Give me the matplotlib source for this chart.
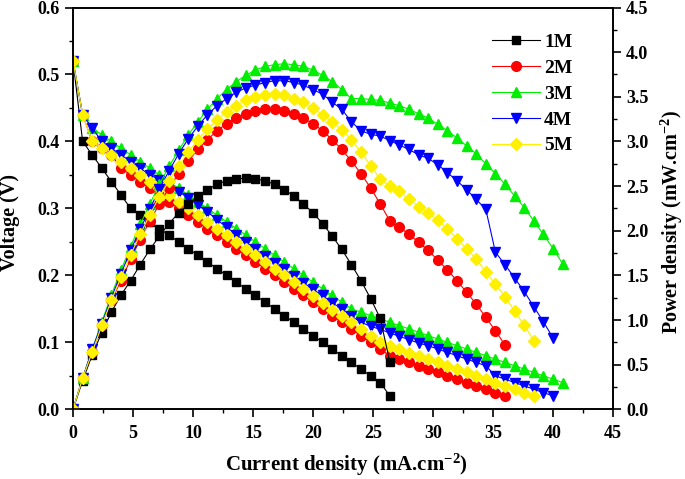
import matplotlib
matplotlib.use("Agg")
import matplotlib.pyplot as plt
from matplotlib.ticker import MultipleLocator

plt.rcParams['font.family'] = ['Liberation Serif', 'DejaVu Serif']
plt.rcParams['font.weight'] = 'bold'
plt.rcParams['mathtext.fontset'] = 'custom'
plt.rcParams['mathtext.rm'] = 'Liberation Serif:bold'
plt.rcParams['mathtext.it'] = 'Liberation Serif:bold'
plt.rcParams['mathtext.bf'] = 'Liberation Serif:bold'

current = [0.0, 0.8, 1.6, 2.4, 3.2, 4.0, 4.8, 5.6, 6.4, 7.2, 8.0, 8.8, 9.6, 10.4,
           11.2, 12.0, 12.8, 13.6, 14.4, 15.2, 16.0, 16.8, 17.6, 18.4, 19.2, 20.0,
           20.8, 21.6, 22.4, 23.2, 24.0, 24.8, 25.6, 26.4, 27.2, 28.0, 28.8, 29.6,
           30.4, 31.2, 32.0, 32.8, 33.6, 34.4, 35.2, 36.0, 36.8, 37.6, 38.4, 39.2,
           40.0, 40.8]

labels = ['1M', '2M', '3M', '4M', '5M']

v_1M = [0.52, 0.40, 0.38, 0.36, 0.34, 0.32, 0.30, 0.29, 0.28, 0.27, 0.26, 0.25,
        0.24, 0.23, 0.22, 0.21, 0.20, 0.19, 0.18, 0.17, 0.16, 0.15, 0.14, 0.13,
        0.12, 0.11, 0.10, 0.09, 0.08, 0.07, 0.06, 0.05, 0.04, 0.02]
p_1M = [0.0, 0.32, 0.61, 0.86, 1.09, 1.28, 1.44, 1.62, 1.79, 1.94, 2.08, 2.20,
        2.30, 2.39, 2.46, 2.52, 2.56, 2.58, 2.59, 2.58, 2.56, 2.52, 2.46, 2.39,
        2.30, 2.20, 2.08, 1.94, 1.79, 1.62, 1.44, 1.24, 1.02, 0.53]

v_2M = [0.52, 0.44, 0.40, 0.39, 0.38, 0.36, 0.35, 0.34, 0.33, 0.32, 0.31, 0.30,
        0.29, 0.28, 0.27, 0.26, 0.25, 0.24, 0.23, 0.22, 0.21, 0.20, 0.19, 0.18,
        0.17, 0.16, 0.15, 0.14, 0.13, 0.12, 0.11, 0.10, 0.09, 0.08, 0.075, 0.07,
        0.065, 0.06, 0.055, 0.05, 0.045, 0.04, 0.035, 0.03, 0.025, 0.02]
p_2M = [0.0, 0.35, 0.64, 0.94, 1.22, 1.44, 1.68, 1.90, 2.11, 2.30, 2.48, 2.64,
        2.78, 2.91, 3.02, 3.12, 3.20, 3.26, 3.31, 3.34, 3.36, 3.36, 3.34, 3.31,
        3.26, 3.20, 3.12, 3.02, 2.91, 2.78, 2.64, 2.48, 2.30, 2.11, 2.04, 1.96,
        1.87, 1.78, 1.67, 1.56, 1.44, 1.31, 1.18, 1.03, 0.88, 0.72]

v_3M = [0.52, 0.44, 0.42, 0.41, 0.40, 0.39, 0.38, 0.37, 0.36, 0.35, 0.34, 0.33,
        0.32, 0.31, 0.30, 0.29, 0.28, 0.27, 0.26, 0.25, 0.24, 0.23, 0.22, 0.21,
        0.20, 0.19, 0.18, 0.17, 0.16, 0.15, 0.145, 0.14, 0.135, 0.13, 0.125, 0.12,
        0.115, 0.11, 0.105, 0.10, 0.095, 0.09, 0.085, 0.08, 0.075, 0.07, 0.065,
        0.06, 0.055, 0.05, 0.045, 0.04]
p_3M = [0.0, 0.35, 0.67, 0.98, 1.28, 1.56, 1.82, 2.07, 2.30, 2.52, 2.72, 2.90,
        3.07, 3.22, 3.36, 3.48, 3.58, 3.67, 3.74, 3.80, 3.84, 3.86, 3.87, 3.86,
        3.84, 3.80, 3.74, 3.67, 3.58, 3.48, 3.48, 3.47, 3.46, 3.43, 3.40, 3.36,
        3.31, 3.26, 3.19, 3.12, 3.04, 2.95, 2.86, 2.75, 2.64, 2.52, 2.39, 2.26,
        2.11, 1.96, 1.80, 1.63]

v_4M = [0.52, 0.44, 0.42, 0.40, 0.39, 0.38, 0.37, 0.36, 0.35, 0.343, 0.334, 0.325,
        0.316, 0.305, 0.295, 0.283, 0.272, 0.261, 0.250, 0.239, 0.229, 0.219,
        0.209, 0.199, 0.189, 0.179, 0.170, 0.159, 0.150, 0.139, 0.130, 0.124,
        0.1195, 0.114, 0.109, 0.104, 0.099, 0.095, 0.090, 0.085, 0.080, 0.075,
        0.070, 0.065, 0.050, 0.045, 0.040, 0.035, 0.030, 0.025, 0.020]
p_4M = [0.0, 0.35, 0.67, 0.96, 1.25, 1.52, 1.78, 2.02, 2.24, 2.47, 2.67, 2.86,
        3.03, 3.17, 3.30, 3.40, 3.48, 3.55, 3.60, 3.63, 3.66, 3.68, 3.68, 3.66,
        3.63, 3.58, 3.53, 3.44, 3.36, 3.22, 3.12, 3.08, 3.06, 3.01, 2.96, 2.91,
        2.85, 2.81, 2.74, 2.65, 2.56, 2.46, 2.35, 2.24, 1.76, 1.62, 1.47, 1.32,
        1.15, 0.98, 0.80]

v_5M = [0.52, 0.44, 0.40, 0.39, 0.38, 0.37, 0.36, 0.35, 0.34, 0.33, 0.32, 0.31,
        0.30, 0.29, 0.28, 0.27, 0.26, 0.25, 0.24, 0.23, 0.22, 0.21, 0.20, 0.19,
        0.179, 0.169, 0.159, 0.149, 0.14, 0.13, 0.12, 0.11, 0.10, 0.095, 0.09,
        0.084, 0.079, 0.075, 0.07, 0.065, 0.06, 0.055, 0.05, 0.045, 0.04, 0.035,
        0.03, 0.025, 0.02]
p_5M = [0.0, 0.35, 0.64, 0.94, 1.22, 1.48, 1.73, 1.96, 2.18, 2.38, 2.56, 2.73,
        2.88, 3.02, 3.14, 3.24, 3.33, 3.40, 3.46, 3.50, 3.52, 3.53, 3.52, 3.48,
        3.44, 3.37, 3.30, 3.22, 3.13, 3.02, 2.88, 2.73, 2.58, 2.50, 2.44, 2.35,
        2.27, 2.20, 2.12, 2.02, 1.91, 1.80, 1.68, 1.54, 1.40, 1.26, 1.10, 0.94, 0.77]

voltages = [v_1M, v_2M, v_3M, v_4M, v_5M]
powers = [p_1M, p_2M, p_3M, p_4M, p_5M]
colors = ['#000000', '#FF0000', '#00EE00', '#0000FF', '#FFF000']
markers = ['s', 'o', '^', 'v', 'D']
msizes = [5.5, 7, 7, 7, 6]

fig = plt.figure(figsize=(6.85, 4.79), dpi=100)
ax = fig.add_axes([0.1066, 0.1455, 0.7883, 0.8388])
ax2 = ax.twinx()

handles = []
for v, p, c, m, ms, lab in zip(voltages, powers, colors, markers, msizes, labels):
    xv = current[:len(v)]
    xp = current[:len(p)]
    ax.plot(xv, v, color=c, marker=m, ms=ms, mec=c, mfc=c, lw=0.8)
    h, = ax2.plot(xp, p, color=c, marker=m, ms=ms, mec=c, mfc=c, lw=0.8, label=lab)
    handles.append(h)

ax.set_xlim(0, 45)
ax.set_ylim(0, 0.6)
ax2.set_ylim(0, 4.5)
ax.xaxis.set_major_locator(MultipleLocator(5))
ax.xaxis.set_minor_locator(MultipleLocator(2.5))
ax.yaxis.set_major_locator(MultipleLocator(0.1))
ax.yaxis.set_minor_locator(MultipleLocator(0.05))
ax2.yaxis.set_major_locator(MultipleLocator(0.5))
ax2.yaxis.set_minor_locator(MultipleLocator(0.25))
ax.yaxis.set_major_formatter(plt.FormatStrFormatter('%.1f'))
ax2.yaxis.set_major_formatter(plt.FormatStrFormatter('%.1f'))

for a in (ax, ax2):
    a.tick_params(which='major', direction='out', length=5.5, width=1.2, labelsize=13, pad=4)
    a.tick_params(which='minor', direction='out', length=3, width=1.0)
    for s in a.spines.values():
        s.set_linewidth(1.2)
ax.tick_params(top=False, right=False)
ax.tick_params(axis='x', pad=6)
ax2.tick_params(left=False)

ax.set_xlabel('Current density (mA.cm$^{-2}$)', fontsize=15, fontweight='bold')
ax.set_ylabel('Voltage (V)', fontsize=14.5, fontweight='bold')
ax2.set_ylabel('Power density (mW.cm$^{-2}$)', fontsize=14.5, fontweight='bold')
ax.xaxis.set_label_coords(0.506, -0.105)
ax.yaxis.set_label_coords(-0.098, 0.466)
ax2.yaxis.set_label_coords(1.084, 0.466)

ax2.legend(handles=handles, loc='upper left', bbox_to_anchor=(0.775, 0.935),
           frameon=False, handlelength=2.5, handletextpad=0.2,
           labelspacing=0.42, borderpad=0, borderaxespad=0,
           prop={'weight': 'bold', 'size': 14})

fig.savefig('out.png', dpi=100)
